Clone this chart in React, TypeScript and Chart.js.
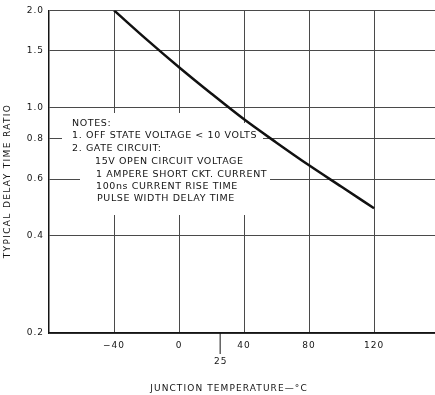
import React, { useEffect, useRef } from 'react';
import { Chart, registerables } from 'chart.js';

Chart.register(...registerables);

// ---- data ----
const temperatures = [-40, -20, 0, 20, 40, 60, 80, 100, 120];
const delayRatios = [2.0, 1.626, 1.333, 1.103, 0.919, 0.778, 0.662, 0.568, 0.487];
const yTickValues = [0.2, 0.4, 0.6, 0.8, 1.0, 1.5, 2.0];
const xTickValues = [-40, 0, 40, 80, 120];
const referenceTemp = 25;
const xTitle = 'JUNCTION TEMPERATURE\u2014\u00B0C';
const yTitle = 'TYPICAL DELAY TIME RATIO';
const notesLines = [
  { text: 'NOTES:', x: 72, y: 124 },
  { text: '1. OFF STATE VOLTAGE < 10 VOLTS', x: 72, y: 136 },
  { text: '2. GATE CIRCUIT:', x: 72, y: 149 },
  { text: '15V OPEN CIRCUIT VOLTAGE', x: 95, y: 162 },
  { text: '1 AMPERE SHORT CKT. CURRENT', x: 96, y: 175 },
  { text: '100ns CURRENT RISE TIME', x: 96, y: 187 },
  { text: 'PULSE WIDTH DELAY TIME', x: 97, y: 199 },
];

const FONT = '"DejaVu Sans", sans-serif';
const INK = '#141414';
const GRID = '#4a4a4a';

export default function App() {
  const ref = useRef<HTMLCanvasElement>(null);

  useEffect(() => {
    document.body.style.margin = '0';
    const canvas = ref.current!;

    const spacingPlugin = {
      id: 'spacing',
      beforeDraw(chart: any) {
        chart.ctx.letterSpacing = '1px';
      },
    };

    const notesPlugin = {
      id: 'notes',
      beforeDatasetsDraw(chart: any) {
        const ctx = chart.ctx;
        ctx.save();
        ctx.fillStyle = '#ffffff';
        ctx.fillRect(62, 113, 178, 45);
        ctx.fillRect(240, 123, 10, 35);
        ctx.fillRect(80, 158, 170, 57);
        ctx.fillRect(62, 127, 201, 16);
        ctx.fillRect(80, 168, 190, 15);
        ctx.fillStyle = INK;
        ctx.font = `9.5px ${FONT}`;
        ctx.letterSpacing = '0.6px';
        ctx.textAlign = 'left';
        ctx.textBaseline = 'middle';
        for (const l of notesLines) ctx.fillText(l.text, l.x, l.y);
        ctx.restore();
      },
    };

    const extrasPlugin = {
      id: 'extras',
      afterDraw(chart: any) {
        const ctx = chart.ctx;
        const xs = chart.scales.x;
        const area = chart.chartArea;
        ctx.save();
        // 25 °C marker
        const px = xs.getPixelForValue(referenceTemp);
        ctx.strokeStyle = INK;
        ctx.lineWidth = 1;
        ctx.beginPath();
        ctx.moveTo(px + 0.5, area.bottom);
        ctx.lineTo(px + 0.5, area.bottom + 21);
        ctx.stroke();
        ctx.fillStyle = INK;
        ctx.font = `9px ${FONT}`;
        ctx.letterSpacing = '1px';
        ctx.textAlign = 'center';
        ctx.textBaseline = 'middle';
        ctx.fillText(String(referenceTemp), px + 1, area.bottom + 29);
        // axis titles
        ctx.letterSpacing = '1.1px';
        ctx.fillText(xTitle, 229, 389);
        ctx.letterSpacing = '1.35px';
        ctx.translate(8, 181);
        ctx.rotate(-Math.PI / 2);
        ctx.fillText(yTitle, 0, 0);
        ctx.restore();
      },
    };

    const chart = new Chart(canvas, {
      type: 'line',
      data: {
        labels: temperatures,
        datasets: [
          {
            data: temperatures.map((t, i) => ({ x: t, y: delayRatios[i] })),
            borderColor: '#111111',
            borderWidth: 2.5,
            pointRadius: 0,
            tension: 0.4,
            cubicInterpolationMode: 'monotone',
            fill: false,
          },
        ],
      },
      options: {
        responsive: false,
        animation: false,
        layout: { padding: { top: 10, left: 0, right: 0, bottom: 0 } },
        plugins: { legend: { display: false }, tooltip: { enabled: false } },
        scales: {
          x: {
            type: 'linear',
            min: -80,
            max: 157.5,
            afterBuildTicks: (s: any) => {
              s.ticks = xTickValues.map((v) => ({ value: v }));
            },
            afterFit: (s: any) => {
              s.height = 62;
            },
            grid: { color: GRID, lineWidth: 1, drawTicks: false },
            border: { display: true, color: INK, width: 1.5 },
            ticks: {
              color: INK,
              font: { family: FONT, size: 9 },
              padding: 7,
              callback: (v: any) => (Number(v) < 0 ? '\u2212' + Math.abs(Number(v)) : String(v)),
            },
          },
          y: {
            type: 'logarithmic',
            min: 0.2,
            max: 2.0,
            afterBuildTicks: (s: any) => {
              s.ticks = yTickValues.map((v) => ({ value: v }));
            },
            afterFit: (s: any) => {
              s.width = 49;
            },
            grid: { color: GRID, lineWidth: 1, drawTicks: false },
            border: { display: true, color: INK, width: 1.5 },
            ticks: {
              color: INK,
              font: { family: FONT, size: 9 },
              padding: 5,
              callback: (v: any) => Number(v).toFixed(1),
            },
          },
        },
      },
      plugins: [spacingPlugin, notesPlugin, extrasPlugin],
    } as any);

    return () => chart.destroy();
  }, []);

  return (
    <div style={{ position: 'fixed', left: 0, top: 0, width: 435, height: 395, background: '#fff' }}>
      <canvas ref={ref} width={435} height={395} />
    </div>
  );
}
